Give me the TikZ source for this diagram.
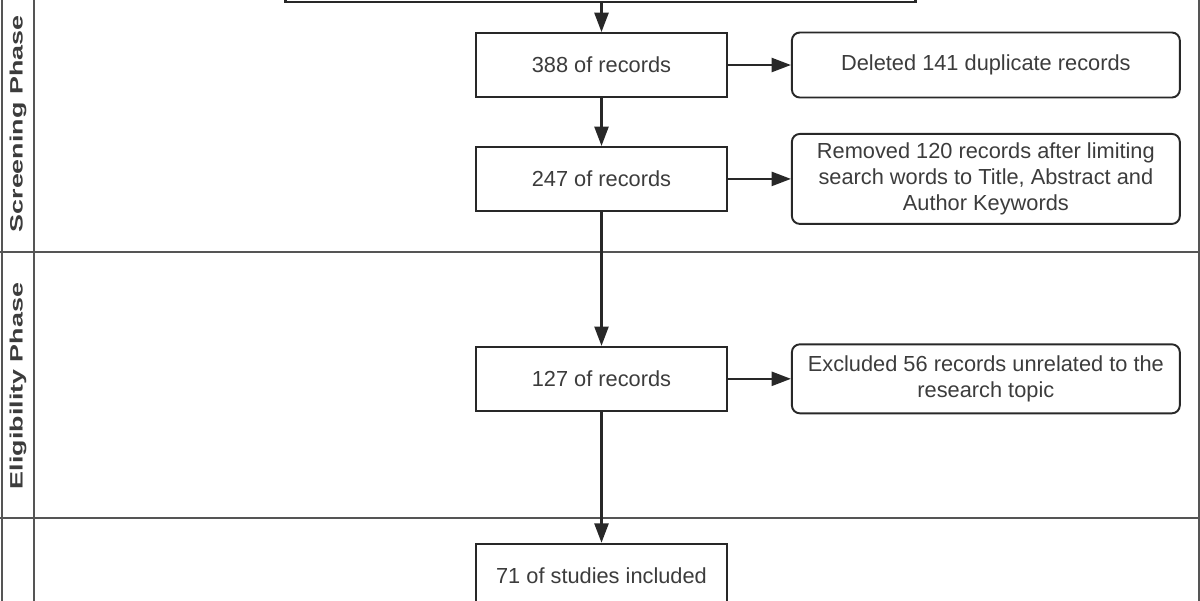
\documentclass[tikz,border=0pt]{standalone}
\usepackage{fontspec}
\setmainfont{Liberation Sans}
\usepackage{graphicx}
\usepackage{tikz}
\usetikzlibrary{arrows.meta, positioning}
\definecolor{cText}{RGB}{60,60,60}
\definecolor{cLine}{RGB}{40,40,40}
\definecolor{cLane}{RGB}{85,85,85}
\tikzset{
	recbox/.style  ={rectangle, draw=cLine, line width=1.1pt, minimum width=5.02cm, minimum height=1.28cm, text centered, align=center, text=cText},
	outbox/.style  ={rectangle, rounded corners=4.5pt, draw=cLine, line width=1.1pt, minimum width=7.76cm, minimum height=1.3cm, text centered, align=center, text=cText},
	flowarrow/.style={-{Triangle[length=11pt, width=8pt]}, line width=1.3pt, draw=cLine},
	lane/.style    ={line width=1.3pt, draw=cLane},
	phase/.style   ={rotate=90, text=cText, font=\fontsize{10.2}{12}\selectfont\bfseries},
}

\begin{document}
\begin{tikzpicture}[x=0.02cm, y=-0.02cm, font=\fontsize{12.4}{15}\selectfont, node distance=1.26cm]
	\useasboundingbox (0,0) rectangle (1200,600);
	\clip (0,0) rectangle (1200,600);
	% lanes
	\draw[lane] (2,-10) -- (2,610);
	\draw[lane] (34,-10) -- (34,610);
	\draw[lane] (1199,-10) -- (1199,610);
	\draw[lane] (0,252) -- (1200,252);
	\draw[lane] (0,518) -- (1200,518);
	\node[phase] (scr) at (18,124) {\scalebox{1.5}[1]{Screening Phase}};
	\node[phase] (eli) at (18,386) {\scalebox{1.5}[1]{Eligibility Phase}};
	% flow
	\node[recbox, minimum width=12.62cm, line width=1.7pt] (top) at (600.5,-30) {};
	\node[recbox] (r388) at (601.5,65) {388 of records};
	\node[recbox, below=0.96cm of r388] (r247) {247 of records};
	\node[recbox, below=2.68cm of r247] (r127) {127 of records};
	\node[recbox, below=2.62cm of r127] (r71) {71 of studies included};
	\node[outbox, right=of r388] (dup) {Deleted 141 duplicate records};
	\node[outbox, right=of r247, minimum height=1.8cm] (lim) {Removed 120 records after limiting\\ search words to Title, Abstract and\\ Author Keywords};
	\node[outbox, right=of r127, minimum height=1.38cm] (exc) {Excluded 56 records unrelated to the\\ research topic};
	\draw[flowarrow] (top.south -| r388.north) -- (r388);
	\draw[flowarrow] (r388) -- (r247);
	\draw[flowarrow] (r247) -- (r127);
	\draw[flowarrow] (r127) -- (r71);
	\draw[flowarrow] (r388) -- (dup);
	\draw[flowarrow] (r247) -- (lim);
	\draw[flowarrow] (r127) -- (exc);
\end{tikzpicture}
\end{document}
